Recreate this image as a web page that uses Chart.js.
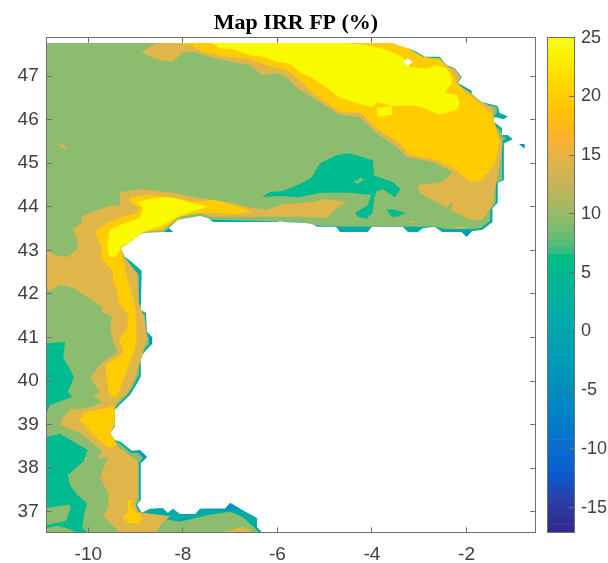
<!DOCTYPE html>
<html>
<head>
    <title>Map IRR FP</title>
    <script src="https://cdnjs.cloudflare.com/ajax/libs/Chart.js/4.4.1/chart.umd.min.js"></script>
    <style>
        body { margin: 0; background: #fff; }
        #wrap { position: relative; width: 608px; height: 563px; }
        canvas { position: absolute; left: 0; top: 0; }
    </style>
</head>
<body>
<div id="wrap">
    <canvas id="mapChart" width="592" height="563"></canvas>
    <canvas id="barChart" width="608" height="563"></canvas>
</div>
<script>
// tick labels
const lonTicks = [-10, -8, -6, -4, -2];
const latTicks = [37, 38, 39, 40, 41, 42, 43, 44, 45, 46, 47];
const barTicks = [-15, -10, -5, 0, 5, 10, 15, 20, 25];

// contour outlines, [lon, lat]
const domain = [[-10.88,47.76],[-3.62,47.76],[-3.52,47.67],[-3.24,47.64],[-3.05,47.55],[-2.88,47.44],[-2.57,47.44],[-2.42,47.25],[-2.25,47.18],[-2.10,46.98],[-2.18,46.84],[-1.89,46.66],[-1.89,46.52],[-1.66,46.40],[-1.34,46.31],[-1.30,46.15],[-1.13,46.08],[-1.21,46.01],[-1.40,46.06],[-1.45,45.97],[-1.25,45.81],[-1.25,45.65],[-1.13,45.65],[-1.02,45.55],[-1.21,45.46],[-1.21,44.61],[-1.34,44.55],[-1.34,44.09],[-1.45,43.97],[-1.45,43.65],[-1.66,43.47],[-1.89,43.44],[-2.00,43.31],[-2.10,43.42],[-2.52,43.42],[-2.67,43.54],[-2.92,43.51],[-3.03,43.42],[-3.24,43.42],[-3.35,43.54],[-4.00,43.54],[-4.09,43.42],[-4.68,43.42],[-4.76,43.54],[-5.17,43.54],[-5.27,43.63],[-5.88,43.65],[-5.88,43.74],[-5.99,43.65],[-7.36,43.65],[-7.49,43.77],[-7.66,43.86],[-7.79,43.77],[-8.12,43.77],[-8.32,43.54],[-8.21,43.42],[-8.84,43.42],[-9.08,43.22],[-9.22,43.19],[-9.31,43.05],[-9.27,42.89],[-9.08,42.73],[-8.87,42.53],[-8.89,41.63],[-8.78,41.56],[-8.76,41.13],[-8.65,41.01],[-8.65,40.85],[-8.78,40.71],[-8.89,40.55],[-8.89,40.10],[-9.01,39.87],[-9.12,39.68],[-9.44,39.34],[-9.44,38.95],[-9.54,38.81],[-9.44,38.65],[-9.31,38.60],[-9.08,38.40],[-8.91,38.42],[-8.76,38.26],[-8.89,38.12],[-8.89,37.27],[-8.97,37.16],[-8.87,36.98],[-8.70,37.07],[-8.42,37.09],[-8.32,36.98],[-8.21,37.07],[-8.06,36.95],[-7.74,36.95],[-7.64,37.07],[-7.11,37.07],[-7.00,37.20],[-6.79,37.07],[-6.43,36.86],[-6.43,36.65],[-6.33,36.53],[-10.88,36.53]];

const green = [[-10.88,47.76],[-3.58,47.76],[-3.24,47.62],[-2.88,47.41],[-2.57,47.41],[-2.42,47.23],[-2.25,47.14],[-2.14,46.98],[-2.21,46.82],[-1.91,46.61],[-1.63,46.36],[-1.36,46.29],[-1.36,46.15],[-1.47,46.01],[-1.47,45.92],[-1.28,45.76],[-1.23,45.60],[-1.15,45.58],[-1.25,45.49],[-1.25,44.61],[-1.38,44.55],[-1.38,44.09],[-1.49,43.93],[-1.51,43.67],[-1.70,43.51],[-1.93,43.49],[-2.46,43.49],[-2.67,43.55],[-2.99,43.54],[-3.31,43.55],[-4.05,43.55],[-4.68,43.55],[-5.14,43.57],[-5.53,43.65],[-7.36,43.70],[-7.64,43.79],[-8.10,43.70],[-8.38,43.42],[-8.84,43.40],[-9.12,43.24],[-9.33,43.05],[-9.12,42.66],[-8.93,42.44],[-8.93,41.63],[-8.80,41.52],[-8.80,41.13],[-8.72,40.99],[-8.72,40.85],[-8.84,40.71],[-8.93,40.53],[-8.93,40.14],[-9.05,39.89],[-9.16,39.70],[-9.48,39.34],[-9.48,38.93],[-9.58,38.81],[-9.48,38.63],[-9.33,38.56],[-9.10,38.35],[-8.95,38.35],[-8.84,38.24],[-8.93,38.12],[-8.93,37.23],[-9.01,37.14],[-8.87,36.93],[-8.06,36.77],[-7.43,36.93],[-7.00,37.00],[-6.73,36.88],[-6.48,36.63],[-6.39,36.53],[-10.88,36.53]];

const tealWestA = [[-10.88,40.87],[-10.49,40.90],[-10.53,40.53],[-10.30,40.10],[-10.43,39.75],[-10.34,39.64],[-10.81,39.45],[-10.88,39.27]];
const tealWestB = [[-10.88,38.72],[-10.60,38.79],[-10.01,38.42],[-10.11,38.15],[-10.43,37.85],[-10.39,37.62],[-10.24,37.39],[-10.03,37.20],[-10.09,36.93],[-10.13,36.63],[-10.03,36.53],[-10.88,36.53]];
const tealBay = [[-6.33,44.22],[-6.16,44.34],[-5.88,44.36],[-5.53,44.52],[-5.27,44.68],[-5.10,45.00],[-4.74,45.19],[-4.47,45.23],[-3.98,45.07],[-3.96,44.72],[-3.56,44.57],[-3.39,44.40],[-3.52,44.22],[-3.77,44.40],[-3.90,44.36],[-3.96,44.16],[-3.98,43.88],[-4.11,43.72],[-4.30,43.77],[-4.36,43.86],[-4.19,43.97],[-4.09,44.04],[-4.02,44.27],[-4.47,44.32],[-5.10,44.32],[-5.53,44.22],[-5.95,44.25]];
const tealSmall = [[-3.69,43.95],[-3.52,43.93],[-3.28,43.86],[-3.47,43.77],[-3.60,43.77]];

const greenIslandBay = [[-4.38,44.57],[-4.21,44.68],[-4.19,44.61],[-4.32,44.52]];
const greenIslandWest = [[-10.88,37.09],[-10.58,37.14],[-10.41,37.16],[-10.37,37.09],[-10.43,36.93],[-10.47,36.79],[-10.66,36.75],[-10.88,36.70]];
const greenWedge = [[-10.88,36.63],[-10.66,36.68],[-10.47,36.63],[-10.24,36.53],[-10.88,36.53]];
const greenSliver = [[-2.42,43.97],[-2.31,44.09],[-2.29,44.02],[-2.40,43.88]];

const tanNorth = [[-8.87,47.55],[-8.55,47.76],[-3.62,47.76],[-3.24,47.62],[-2.92,47.41],[-2.57,47.41],[-2.42,47.23],[-2.25,47.16],[-2.12,46.98],[-2.21,46.82],[-1.91,46.61],[-1.72,46.43],[-1.43,46.27],[-1.43,45.94],[-1.30,45.60],[-1.23,45.46],[-1.36,44.61],[-1.45,44.04],[-1.66,43.70],[-1.93,43.70],[-2.42,43.97],[-2.99,44.32],[-3.03,44.50],[-2.50,44.57],[-2.29,44.80],[-2.71,45.03],[-3.26,45.14],[-3.47,45.37],[-3.90,45.69],[-4.26,46.06],[-4.68,46.11],[-5.25,46.50],[-5.53,46.68],[-5.80,46.95],[-6.01,47.07],[-6.31,47.02],[-6.58,47.25],[-6.94,47.32],[-7.43,47.44],[-7.74,47.55],[-8.00,47.55],[-8.21,47.32],[-8.59,47.39]];
const tanIberia = [[-10.88,43.01],[-10.70,42.89],[-10.43,42.85],[-10.22,43.05],[-10.24,43.31],[-10.34,43.47],[-10.13,43.65],[-10.13,43.79],[-9.60,44.00],[-9.33,44.04],[-9.33,44.34],[-8.91,44.41],[-8.21,44.32],[-7.64,44.20],[-7.07,44.11],[-6.52,43.97],[-6.22,43.93],[-5.88,44.06],[-5.25,44.11],[-5.00,44.18],[-4.53,44.11],[-4.74,43.97],[-4.95,43.75],[-5.53,43.77],[-7.36,43.77],[-7.66,43.86],[-8.12,43.77],[-8.42,43.47],[-8.84,43.42],[-9.08,43.22],[-9.31,43.05],[-9.22,42.82],[-8.97,42.48],[-8.93,41.79],[-8.80,41.40],[-8.76,41.01],[-8.84,40.65],[-8.95,40.26],[-9.12,39.80],[-9.44,39.45],[-9.48,39.04],[-9.54,38.81],[-9.37,38.49],[-8.95,38.15],[-8.95,37.34],[-9.01,37.20],[-8.95,37.00],[-8.84,36.98],[-8.27,36.90],[-8.44,36.75],[-8.55,36.56],[-8.59,36.53],[-9.33,36.53],[-9.54,36.75],[-9.69,36.93],[-9.58,37.09],[-9.58,37.43],[-9.75,37.78],[-9.69,37.96],[-9.58,38.26],[-9.82,38.22],[-9.69,38.38],[-10.18,38.81],[-10.60,38.99],[-10.56,39.11],[-10.39,39.34],[-9.92,39.41],[-9.71,39.52],[-9.90,39.68],[-9.75,39.75],[-9.96,40.07],[-9.71,40.42],[-9.39,40.67],[-9.50,41.01],[-9.54,41.22],[-9.50,41.47],[-9.71,41.59],[-9.71,41.70],[-10.32,42.14],[-10.60,42.21],[-10.81,42.07],[-10.88,42.11]];
const tanSouth = [[-7.17,36.53],[-6.73,36.65],[-6.52,36.53]];
const tanSpot = [[-10.64,45.44],[-10.51,45.42],[-10.43,45.33],[-10.53,45.35]];
const tanSliverA = [[-3.20,43.67],[-3.05,43.67],[-3.18,43.62]];
const tanSliverB = [[-2.31,43.54],[-2.00,43.54],[-2.14,43.49]];

const goldNorth = [[-8.12,47.76],[-7.85,47.71],[-7.58,47.55],[-7.07,47.44],[-6.58,47.39],[-6.22,47.25],[-5.80,47.14],[-5.53,46.91],[-5.25,46.61],[-4.68,46.17],[-4.26,46.17],[-3.90,45.81],[-3.47,45.49],[-3.20,45.19],[-2.63,45.07],[-2.21,44.84],[-1.93,44.57],[-1.66,44.61],[-1.40,45.00],[-1.30,45.53],[-1.45,46.11],[-1.72,46.38],[-2.00,46.61],[-2.21,46.86],[-2.31,47.11],[-2.57,47.39],[-2.92,47.44],[-3.24,47.64],[-3.62,47.76]];
const goldIberia = [[-9.12,44.09],[-9.12,44.22],[-8.76,44.27],[-8.21,44.22],[-7.70,44.11],[-7.36,44.16],[-6.94,44.04],[-6.52,43.88],[-6.86,43.83],[-7.36,43.86],[-7.64,43.86],[-8.06,43.77],[-8.42,43.47],[-8.84,43.42],[-9.08,43.22],[-9.31,43.05],[-9.31,42.96],[-9.22,42.55],[-9.12,42.16],[-9.01,41.70],[-8.97,41.01],[-9.01,40.76],[-9.16,40.32],[-9.39,39.64],[-9.54,39.64],[-9.60,39.96],[-9.63,40.37],[-9.25,40.65],[-9.35,40.94],[-9.18,41.22],[-9.16,41.52],[-9.37,41.82],[-9.39,42.09],[-9.48,42.27],[-9.48,42.50],[-9.60,42.66],[-9.75,42.85],[-9.71,43.05],[-9.86,43.42],[-9.60,43.63],[-9.27,43.77],[-8.95,43.86],[-8.95,44.00]];
const goldLobeA = [[-9.44,39.45],[-9.54,39.41],[-10.11,39.27],[-10.18,39.11],[-9.90,38.76],[-9.58,38.47],[-9.39,38.53],[-9.44,38.65],[-9.54,38.81],[-9.44,38.99]];
const goldLobeB = [[-9.18,37.27],[-9.06,37.27],[-9.08,37.09],[-8.84,36.86],[-8.95,36.72],[-9.18,36.75],[-9.27,36.86],[-9.16,37.00]];

const yellowNorth = [[-7.39,47.76],[-7.22,47.64],[-6.94,47.62],[-6.58,47.48],[-6.31,47.44],[-6.01,47.32],[-5.74,47.28],[-5.53,47.09],[-5.25,46.95],[-4.89,46.68],[-4.68,46.50],[-4.32,46.38],[-4.00,46.29],[-3.88,46.40],[-3.58,46.31],[-3.14,46.33],[-2.92,46.27],[-2.57,46.11],[-2.21,46.22],[-2.14,46.38],[-2.21,46.56],[-2.46,46.63],[-2.31,46.84],[-2.31,46.95],[-2.42,47.18],[-2.63,47.25],[-2.84,47.18],[-3.20,47.21],[-3.35,47.44],[-3.69,47.60],[-4.11,47.71],[-4.47,47.76]];
const yellowLobe = [[-3.90,46.27],[-3.58,46.31],[-3.58,46.11],[-3.88,46.06]];
const yellowIberia = [[-9.54,43.47],[-9.33,43.58],[-8.91,43.74],[-8.84,43.97],[-8.97,44.11],[-8.76,44.16],[-8.42,44.22],[-8.17,44.20],[-7.85,44.09],[-7.47,44.00],[-7.85,43.88],[-8.12,43.77],[-8.42,43.58],[-8.84,43.42],[-9.08,43.22],[-9.31,43.08],[-9.35,42.96],[-9.44,42.85],[-9.56,42.85],[-9.60,43.12]];

const blueOffshore = [[-0.89,45.44],[-0.77,45.44],[-0.77,45.33]];
const blueNorthCoast = [[-8.34,43.54],[-8.21,43.42],[-8.42,43.42]];
const blueBumpA = [[-8.65,41.01],[-8.65,40.85],[-8.72,40.85],[-8.72,40.99]];
const blueBumpB = [[-8.91,38.42],[-8.76,38.26],[-8.89,38.12],[-8.84,38.24]];
const blueBumpC = [[-1.89,43.44],[-2.00,43.31],[-2.10,43.42]];
const blueBumpD = [[-7.64,37.07],[-7.11,37.07],[-7.00,37.20],[-6.79,37.07],[-7.00,37.03]];
const holeNorth = [[-3.24,47.41],[-3.14,47.32],[-3.24,47.23],[-3.35,47.32]];

// colorbar levels and colours, top to bottom
const barEdges = [25,24.34,23.68,23.03,22.37,21.71,21.05,20.40,19.74,19.08,18.42,17.77,17.11,16.45,15.79,15.13,14.48,13.82,13.16,12.50,11.85,11.19,10.53,9.87,9.22,8.56,7.90,7.24,6.59,5.93,5.27,4.61,3.96,3.30,2.64,1.98,1.33,0.67,0.01,-0.65,-1.30,-1.96,-2.62,-3.28,-3.93,-4.59,-5.25,-5.91,-6.56,-7.22,-7.88,-8.54,-9.19,-9.85,-10.51,-11.17,-11.82,-12.48,-13.14,-13.80,-14.45,-15.11,-15.77,-16.43,-17.09];
const barColors = ['#F9FB0E','#F9F506','#FBEE04','#FCE702','#FDE001','#FED900','#FED300','#FFCD00','#FFC800','#FFC204','#FFBD0E','#FFB71A','#FEB128','#F7B135','#EDB240','#E3B34A','#DBB34F','#D2B453','#C9B457','#C0B55B','#B5B65F','#A9B763','#9CB967','#8CBB6C','#7DBC70','#6CBC73','#58BB77','#3CBB7C','#00BB84','#00BA89','#00B88F','#00B694','#00B499','#00B19E','#00AEA2','#00ACA6','#00AAA9','#00A7AC','#00A4AE','#00A1B0','#009EB2','#009BB4','#0098B6','#0095B8','#0092BA','#008EBC','#008ABF','#0086C2','#0082C4','#027EC7','#0479C9','#0674CB','#086FCD','#0A6ACE','#0B65CF','#0C60CF','#0D5ACC','#1352C2','#1C4AB5','#2642AB','#2C3BA2','#2E359B','#2F3094','#302B8E'];

const AXIS_COLOR = '#6e6e6e';
const LABEL_COLOR = '#404040';
const COAST = '#00ACA5', TEAL = '#00BB90', GREEN = '#8CBD6E', TAN = '#E0B64B', GOLD = '#FFCC00', YELLOW = '#F9FA00', BLUE = '#0090C8';

// painted bottom to top
const layers = [
    [domain, COAST], [blueOffshore, BLUE], [blueNorthCoast, BLUE], [blueBumpA, BLUE], [blueBumpB, BLUE], [blueBumpC, BLUE], [blueBumpD, BLUE],
    [green, GREEN],
    [tealWestA, TEAL], [tealWestB, TEAL], [tealBay, TEAL], [tealSmall, TEAL],
    [greenIslandBay, GREEN], [greenIslandWest, GREEN], [greenWedge, GREEN],
    [tanNorth, TAN], [tanIberia, TAN], [tanSouth, TAN], [tanSpot, TAN], [tanSliverA, TAN], [tanSliverB, TAN],
    [greenSliver, GREEN],
    [goldNorth, GOLD], [goldIberia, GOLD], [goldLobeA, GOLD], [goldLobeB, GOLD],
    [yellowNorth, YELLOW], [yellowLobe, YELLOW], [yellowIberia, YELLOW],
    [holeNorth, '#ffffff']
];

function setTicks(list) {
    return function(scale) { scale.ticks = list.map(v => ({ value: v })); };
}

// ticks point into the plot, MATLAB style
function boxAxis(position, min, max, list, size, showLabels, fontSize, padding) {
    const horizontal = position === 'top' || position === 'bottom';
    return {
        type: 'linear',
        position: position,
        min: min,
        max: max,
        afterBuildTicks: setTicks(list),
        afterFit: function(scale) {
            if (horizontal) scale.height = size; else scale.width = size;
        },
        border: { color: AXIS_COLOR, width: 1, z: 2 },
        grid: { drawOnChartArea: false, drawTicks: list.length > 0, tickLength: -5, color: AXIS_COLOR, z: 2 },
        ticks: {
            display: showLabels,
            autoSkip: false,
            maxRotation: 0,
            padding: padding,
            color: LABEL_COLOR,
            font: { family: 'Liberation Sans', size: fontSize },
            callback: v => String(v)
        }
    };
}

new Chart(document.getElementById('mapChart'), {
    type: 'scatter',
    data: {
        datasets: layers.slice().reverse().map(l => ({
            data: l[0].map(p => ({ x: p[0], y: p[1] })),
            showLine: true,
            fill: 'shape',
            backgroundColor: l[1],
            borderColor: l[1],
            borderWidth: 0,
            pointRadius: 0,
            tension: 0
        }))
    },
    options: {
        responsive: false,
        animation: false,
        plugins: {
            legend: { display: false },
            tooltip: { enabled: false },
            title: {
                display: true,
                text: 'Map IRR FP (%)',
                color: '#000',
                font: { family: 'Liberation Serif', size: 22, weight: 'bold' },
                padding: { top: 10, bottom: 1.3 }
            }
        },
        scales: {
            x: boxAxis('bottom', -10.88, -0.545, lonTicks, 30.7, true, 19, 16),
            y: boxAxis('left', 36.53, 47.88, latTicks, 46.7, true, 19, 13),
            xTop: boxAxis('top', -10.88, -0.545, lonTicks, 0, false, 19, 0),
            yRight: boxAxis('right', 36.53, 47.88, latTicks, 56.7, false, 19, 0)
        }
    }
});

new Chart(document.getElementById('barChart'), {
    type: 'bar',
    data: {
        labels: ['level'],
        datasets: barColors.map((c, i) => ({
            data: [[barEdges[i + 1], barEdges[i]]],
            backgroundColor: c,
            grouped: false,
            barPercentage: 1,
            categoryPercentage: 1
        }))
    },
    options: {
        responsive: false,
        animation: false,
        layout: { padding: { left: 547.7, top: 37.7, bottom: 30.7 } },
        plugins: { legend: { display: false }, tooltip: { enabled: false } },
        scales: {
            x: {
                position: 'bottom',
                afterFit: s => { s.height = 0; },
                border: { color: AXIS_COLOR, width: 1, z: 2 },
                grid: { display: false },
                ticks: { display: false }
            },
            y: boxAxis('right', -17.09, 25, barTicks, 34, true, 18, 12),
            yLeft: boxAxis('left', -17.09, 25, [], 0, false, 18, 0),
            xTop: boxAxis('top', 0, 1, [], 0, false, 18, 0)
        }
    }
});
</script>
</body>
</html>
